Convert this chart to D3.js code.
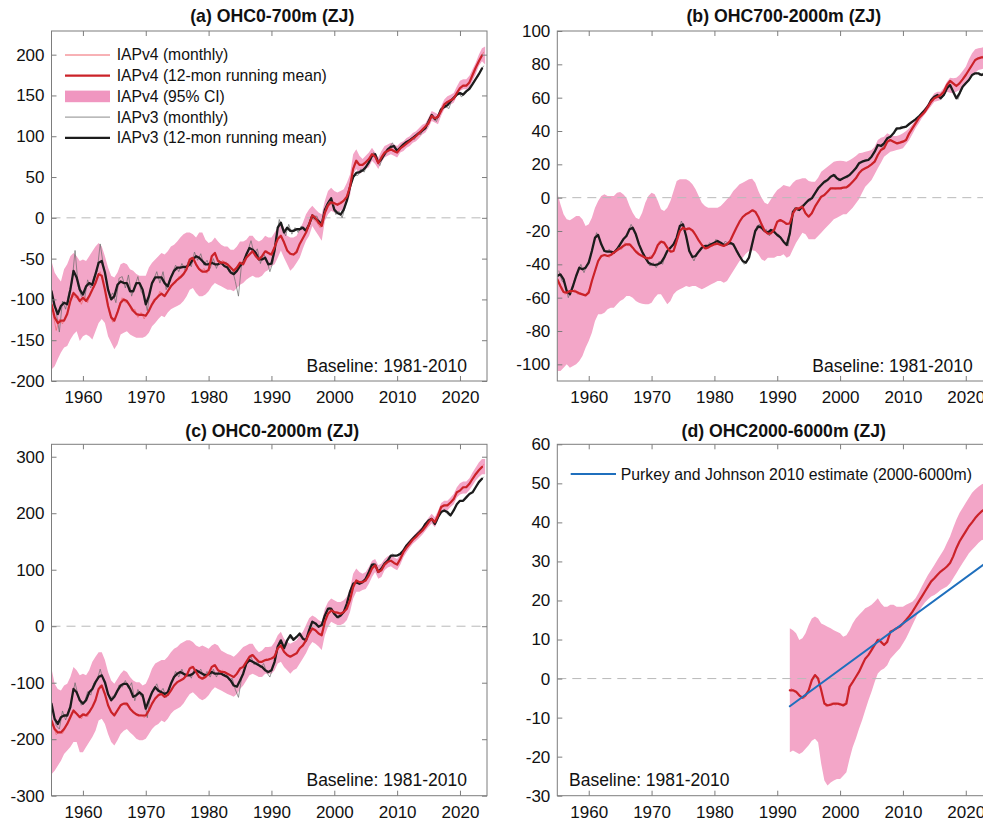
<!DOCTYPE html>
<html>
<head>
<meta charset="utf-8">
<script src="https://cdn.jsdelivr.net/npm/d3@7"></script>
<style>
  html, body { margin: 0; padding: 0; background: #ffffff; }
  svg { display: block; }
</style>
</head>
<body>
<svg id="fig" width="983" height="822"></svg>
<script>
// ---------------------------------------------------------------------------
// Ocean heat content anomalies (ZJ), baseline 1981-2010
// Half-year sampling for running means and 95% CI; thin "monthly" traces are
// sampled between those points.
// ---------------------------------------------------------------------------
const halfYears  = d3.range(1955, 2024.01, 0.5);    // 1955.0 ... 2024.0
const monthYears = d3.range(1955.25, 2024, 0.5);    // 1955.25 ... 2023.75
const deepYears  = d3.range(1992, 2024.01, 0.5);    // 1992.0 ... 2024.0
const deepMonthYears = d3.range(1992.25, 2024, 0.5);

const xTickYears = [1960, 1970, 1980, 1990, 2000, 2010, 2020];

const panelTitles = ["(a) OHC0-700m (ZJ)", "(b) OHC700-2000m (ZJ)", "(c) OHC0-2000m (ZJ)", "(d) OHC2000-6000m (ZJ)"];
const baselineLabel = "Baseline: 1981-2010";
const legendLabels = ["IAPv4 (monthly)", "IAPv4 (12-mon running mean)", "IAPv4 (95% CI)", "IAPv3 (monthly)", "IAPv3 (12-mon running mean)"];
const pjLabel = "Purkey and Johnson 2010 estimate (2000-6000m)";

const ticksA = [-200, -150, -100, -50, 0, 50, 100, 150, 200];
const ticksB = [-100, -80, -60, -40, -20, 0, 20, 40, 60, 80, 100];
const ticksC = [-300, -200, -100, 0, 100, 200, 300];
const ticksD = [-30, -20, -10, 0, 10, 20, 30, 40, 50, 60];

// ---- (a) 0-700 m ----------------------------------------------------------
const a_v4Mean = [
-106,-122,-129,-126,-126,-118,-102,-92,-96,-102,
-98,-102,-96,-88,-80,-69,-71,-88,-108,-122,
-126,-116,-104,-100,-102,-108,-114,-118,-119,-119,
-120,-114,-106,-100,-96,-93,-96,-90,-84,-80,
-76,-73,-69,-63,-51,-49,-57,-63,-66,-66,
-64,-47,-43,-53,-55,-55,-57,-61,-65,-61,
-55,-57,-49,-45,-41,-47,-51,-47,-41,-43,
-45,-36,-26,-22,-30,-40,-44,-45,-42,-32,
-25,-18,-8,3,0,-6,-10,6,15,19,
18,16,18,21,26,38,60,70,65,65,
68,72,78,75,67,74,80,82,84,82,
80,85,88,91,94,97,100,104,108,112,
116,125,122,124,131,139,142,144,146,153,
159,162,162,166,175,184,192,199,null];

const a_v3Mean = [
-90,-108,-118,-108,-104,-106,-88,-65,-73,-88,
-94,-84,-80,-82,-69,-55,-53,-67,-88,-100,
-96,-82,-78,-80,-80,-90,-90,-80,-80,-88,
-106,-96,-80,-73,-73,-73,-80,-84,-73,-65,
-61,-61,-60,-60,-57,-51,-47,-49,-53,-57,
-57,-55,-57,-57,-55,-59,-61,-67,-69,-65,
-59,-55,-45,-37,-39,-43,-51,-51,-49,-57,
-56,-40,-12,-6,-18,-12,-16,-16,-14,-14,
-12,-16,-8,3,-1,-4,-8,10,18,24,
10,6,4,10,21,38,50,55,56,58,
62,68,76,78,68,72,78,84,87,88,
82,86,90,93,95,98,101,104,107,110,
118,126,121,124,133,136,138,143,147,151,
153,151,155,158,164,170,176,183,null];

const a_ciHigh = [
-53,-67,-73,-78,-63,-57,-47,-43,-47,-53,
-51,-53,-47,-41,-35,-31,-35,-47,-61,-71,
-73,-67,-57,-55,-57,-63,-65,-69,-71,-71,
-71,-61,-55,-51,-47,-43,-45,-41,-35,-33,
-29,-24,-20,-18,-18,-20,-24,-18,-18,-27,
-31,-29,-24,-29,-33,-35,-35,-39,-39,-35,
-29,-29,-27,-22,-22,-27,-29,-27,-22,-24,
-24,-18,-12,-4,-12,-22,-24,-24,-22,-14,
-6,4.5,10.6,14.7,10.6,6.5,4.5,21,33,37,
33,31,33,35,43,53,78,84,76,72,
76,80,86,80,74,82,88,90,92,90,
88,92,94,98,100,104,106,110,114,116,
123,131,129,127,137,145,149,151,153,161,
168,170,170,174,182,190,200,208,210];

const a_ciLow = [
-186,-182,-173,-165,-159,-157,-149,-143,-139,-151,
-145,-143,-145,-149,-139,-129,-124,-129,-145,-153,
-161,-155,-143,-141,-139,-143,-145,-147,-147,-147,
-145,-141,-133,-129,-124,-120,-122,-116,-112,-110,
-108,-106,-102,-96,-88,-86,-92,-96,-96,-94,
-90,-84,-80,-82,-84,-86,-88,-88,-90,-86,
-82,-80,-76,-73,-71,-73,-73,-71,-66,-64,
-59,-57,-49,-40,-49,-57,-65,-61,-55,-49,
-38,-28,-22,-10,-16,-22,-28,-4,4.5,8.6,
6.5,6.5,8.6,10.6,19,27,53,60,53,57.5,
60,62,70,66,60,68,74,76,78,76,
74,80,82,86,88,92,94,98,102,104.5,
110.6,118.8,116.7,114.7,125,133,137,139,141,149,
155.5,157.6,157.6,159.6,167.8,176,186,192,188];

const a_v4Monthly = [
-118,-138,-124,-130,-120,-112,-94,-98,-96,-106,
-96,-104,-90,-86,-72,-66,-80,-96,-118,-128,
-120,-108,-98,-104,-104,-114,-112,-122,-116,-124,
-116,-110,-100,-100,-90,-96,-92,-88,-80,-80,
-72,-72,-64,-58,-48,-54,-62,-66,-62,-68,
-54,-44,-48,-56,-52,-58,-58,-64,-62,-58,
-54,-52,-46,-42,-44,-50,-48,-44,-40,-46,
-40,-30,-22,-26,-36,-42,-46,-42,-36,-28,
-22,-12,-2,-2,-6,-12,2,14,20,17,
16,19,20,22,32,50,68,66,64,68,
70,76,78,70,70,78,80,84,82,80,
83,87,90,92,96,98,102,106,110,115,
121,124,121,128,135,140,143,145,150,157,
161,161,164,170,180,188,196,203];

const a_v3Monthly = [
-100,-116,-140,-102,-112,-92,-80,-40,-84,-96,
-100,-76,-86,-72,-66,-32,-58,-76,-98,-92,
-104,-74,-72,-86,-70,-96,-84,-72,-90,-96,
-114,-86,-76,-66,-80,-66,-88,-76,-68,-58,
-66,-56,-64,-54,-60,-42,-52,-44,-58,-52,
-62,-50,-62,-52,-58,-54,-66,-62,-78,-96,
-56,-50,-40,-28,-44,-38,-56,-44,-52,-66,
-54,-24,-2,-14,-22,-8,-20,-12,-18,-10,
-16,-10,-4,2,2,-8,0,16,22,16,
4,8,0,14,28,46,52,52,60,56,
66,70,80,70,64,76,82,86,92,84,
84,88,92,94,98,96,104,102,110,112,
124,122,118,128,134,136,134,146,148,154,
148,154,158,160,168,172,180,186];

// ---- (b) 700-2000 m -------------------------------------------------------
const b_v4Mean = [
-49,-53,-56.6,-57,-56,-56,-56.4,-57.4,-58,-58.6,
-57,-50,-44,-38,-35,-34.4,-35,-34.4,-33,-31.6,
-30.4,-29,-28,-28,-30,-32.4,-34,-35,-36,-36.4,
-36,-33,-28.4,-26.4,-27,-30,-32.4,-32,-26,-20,
-18,-19,-18.4,-19.6,-22.4,-25.6,-28.4,-30.4,-30,-28.8,
-28,-27.6,-28.4,-29,-28,-26,-22,-18,-14.4,-11.6,
-10,-9,-7.6,-8.4,-11.6,-16,-20,-21.6,
-21.4,-19.4,-14.4,-13.4,-14.4,-15.8,-15.4,-9.4,-6.4,-6.4,
-5.4,-9.4,-11.4,-9.4,-5.4,-2.4,0.6,1.6,3.6,5.6,
5.6,5.6,5.6,6,6.2,7.6,9.6,11.6,14.6,16.6,
17.6,18.6,20,21.6,25.6,28.6,29.6,33.6,34.6,33.6,
32.6,33,33.6,34.6,38.6,41.6,44.6,47.6,49.6,51.6,
54.6,57.6,59.6,60.6,61.6,63.6,67.6,70,68.6,67,
68.6,71,73.6,76.6,79.6,82.6,83.6,84.2,84.2,84.5,null];

const b_v3Mean = [
-47,-46,-49,-56,-58,-53,-47,-42,-43,-42,
-39,-32,-24,-22.4,-28,-32,-32.4,-32.4,-33,-31,
-28,-25,-23,-19,-18,-22,-28,-32.4,-36,-39,
-40,-40.4,-40,-39,-36,-32,-30,-28,-24,-17,
-16,-23,-32,-35.6,-35,-32.4,-30,-29,-29,-28,
-27,-26,-27,-28.4,-28,-27,-28,-31.6,-35,-38,
-39,-36,-28,-20,-17.2,-18,-20,-21,
-19.4,-20.4,-22.4,-23.8,-26.4,-28.4,-21.4,-8.4,-6.4,-7.4,
-5.4,-3.4,-1.4,-0.4,2.6,5.6,7.6,9.6,10.6,12.6,
13.6,11.6,10.6,11.6,12.6,13.6,15.6,17.6,20.6,21.6,
22.2,22.6,24.6,27.6,31.6,31,32.6,35.6,36.6,38.6,
41.6,41.6,42.2,42.6,44.2,45.6,47,48.6,50.6,52.6,
55,58.6,60.6,61.6,59.6,61.6,65.6,67.6,63.6,59.6,
62.6,66.6,68.6,70.6,73.6,74.6,74.6,73.6,74.2,75,null];

const b_ciHigh = [
3,-4,-10,-13,-13.6,-12.4,-11,-11,-13,-17,
-16,-12,-6,-2,1,2,1,1,1,3,
3.4,2,0,-5,-9,-12,-13,-9,-3,1,
3,2,-2,-7,-8,-6,-2,4,10,11,
11,11,10,8,5,1,-3,-5,-6,-6,
-6,-6,-5,-3,-1,1,4,6,8,9,
10,11,11.4,9,4,0,-3,-4,
-1,2,4.6,6,7.6,7,6.6,9,10.6,11,
11.6,11.6,10,9.6,9.6,12,15.6,17,18.6,20,
21.6,22,22.2,22,21.6,22.5,23.6,25,26.6,27,
27.6,28,28.6,30.6,34.6,36,36.6,38.6,37.6,37,
37,37.6,38.6,40,41.6,44,46.6,49,51.6,54,
56.6,60,62.6,63.6,63.6,66,69.6,72,71.6,72,
73.6,76,78.6,83,86.6,89,89.6,90,90.6,91,91];

const b_ciLow = [
-104,-104,-102,-100,-102,-101,-100,-98,-95,-90,
-86,-81,-74,-70,-70,-69,-67,-66,-66,-64,
-62,-61,-59,-59,-60,-62,-63,-63.6,-64,-64,
-63,-60,-58,-58,-61,-64,-62,-58,-56,-55,
-54,-53,-53.6,-53,-53,-54,-55,-54,-53,-52,
-51,-50,-50,-51,-50,-47,-44,-41,-38,-36,
-33.6,-32,-31.6,-32,-34,-37,-38,-36,
-36,-36,-35,-35,-34,-36,-35,-31,-27,-24,
-21,-22,-25,-25,-25,-23,-21,-19,-17,-15,
-13,-12,-11,-10,-10,-8,-6,-3.5,-1,3,
6.6,8.5,10.6,14,17.6,21,24.6,26,27.6,28,
28.6,29,29.6,32,34.6,38,41.6,44.5,47.6,50,
52.6,55,57.6,58,58.6,61,63.6,63,62.6,63.5,
64.6,66,67.6,70.5,73.6,75,76.6,77,77.6,78,78];

const b_v4Monthly = [
-52,-56,-58,-56,-57,-55,-58,-57,-59,-57,
-54,-47,-41,-37,-35,-34,-36,-33,-33,-30,
-31,-27,-29,-28,-32,-32,-35,-35,-37,-35,
-35,-30,-26,-27,-28,-31,-33,-30,-23,-19,
-19,-18,-20,-20,-24,-27,-29,-31,-29,-29,
-27,-28,-29,-28,-27,-24,-20,-16,-13,-11,
-9,-8,-7,-10,-14,-18,-21,-22,-20,-17,
-13,-14,-15,-16,-13,-7,-7,-5,-7,-11,
-10,-7,-4,-1,1,3,4,6,5,6,
5,7,6,9,10,13,16,17,18,19,
21,24,27,30,31,35,34,33,32,34,
34,36,40,43,46,49,50,53,56,59,
60,61,62,66,69,70,67,68,70,72,
75,78,81,83,84,85,84,85];

const b_v3Monthly = [
-44,-50,-52,-60,-55,-49,-45,-40,-45,-40,
-36,-28,-21,-25,-30,-33,-31,-34,-31,-30,
-26,-24,-21,-16,-20,-25,-31,-34,-38,-41,
-39,-42,-38,-40,-34,-31,-29,-27,-20,-14,
-19,-28,-34,-38,-33,-31,-29,-30,-27,-29,
-25,-27,-29,-26,-28,-28,-30,-34,-37,-40,
-38,-33,-24,-17,-16,-20,-19,-23,-19,-22,
-22,-25,-28,-29,-15,-6,-8,-5,-4,-2,
-2,1,4,6,9,9,12,13,14,10,
11,12,12,15,16,19,21,22,23,23,
26,29,32,30,34,36,38,40,41,43,
42,43,45,46,48,49,52,53,57,60,
61,60,60,63,67,66,61,59,64,68,
70,72,74,75,73,75,74,76];

// ---- (c) 0-2000 m ---------------------------------------------------------
const c_v4Mean = [
-167,-182,-188,-188,-182,-173,-161,-149,-155,-161,
-156,-158,-152,-143,-131,-111,-105,-120,-140,-152,
-158,-149,-140,-137,-137,-146,-152,-156,-158,-158,
-158,-149,-137,-128,-122,-120,-125,-122,-114,-105,
-99,-96,-93,-87,-75,-72,-81,-90,-93,-90,
-84,-72,-69,-78,-81,-81,-84,-87,-90,-84,
-75,-72,-63,-54,-51,-57,-63,-63,-60,-59,
-57,-54,-39,-34,-45,-51,-54,-51,-48,-39,
-34,-25,-13,-4,-7,-13,-16,8,22,28,
25,24,22,25,31,46,69,81,78,78,
81,90,102,108,96,99,109,114,116,112,
109,119,131,139,146,153,158,164,169,176,
184,190,184,196,211,214,214,219,225,237,
240,246,246,252,261,269,276,282,null];

const c_v3Mean = [
-137,-164,-173,-161,-158,-158,-143,-111,-117,-131,
-137,-131,-117,-111,-99,-90,-87,-99,-120,-131,
-125,-114,-105,-102,-102,-111,-125,-122,-117,-122,
-146,-131,-117,-108,-114,-117,-120,-117,-102,-90,
-84,-81,-84,-87,-87,-84,-78,-81,-84,-87,
-85,-81,-84,-84,-84,-87,-90,-96,-105,-107,
-96,-84,-66,-60,-63,-66,-69,-72,-78,-81,
-78,-63,-36,-25,-39,-25,-16,-24,-19,-13,
-22,-25,-7,8,5,-1,2,19,31,31,
22,16,19,25,40,61,75,78,75,78,
84,96,109,109,96,102,111,116,125,125,
125,128,134,143,149,155,161,166,172,181,
187,190,181,193,202,205,202,196,205,216,
222,222,228,234,237,246,255,261,null];

const c_ciHigh = [
-75,-102,-111,-114,-105,-102,-90,-72,-78,-87,
-84,-87,-78,-63,-54,-46,-46,-60,-81,-96,
-102,-93,-84,-78,-81,-90,-96,-99,-99,-105,
-102,-90,-75,-66,-63,-60,-60,-54,-46,-40,
-37,-31,-28,-25,-25,-28,-34,-37,-34,-37,
-40,-34,-31,-34,-43,-46,-49,-51,-54,-49,
-43,-37,-34,-31,-31,-40,-46,-43,-37,-37,
-36,-28,-16,-10,-22,-28,-31,-28,-25,-16,
-10,2,14,19,16,11,8,31,43,49,
46,43,43,46,52,66,93,102,96,93,
96,105,116,119,108,111,119,124,126,122,
119,128,139,146,153,159,165,171,176,184,
192,199,193,204,218,222,222,228,234,246,
253,256,256,262,272,281,290,296,296];

const c_ciLow = [
-262,-256,-247,-238,-226,-220,-214,-205,-205,-223,
-223,-214,-205,-196,-185,-167,-164,-173,-191,-205,
-211,-202,-191,-185,-182,-188,-193,-199,-202,-202,
-199,-191,-182,-176,-173,-167,-170,-164,-155,-149,
-146,-143,-137,-128,-120,-117,-122,-128,-131,-128,
-122,-114,-108,-111,-114,-117,-120,-122,-125,-120,
-111,-105,-96,-87,-84,-87,-90,-90,-84,-84,
-84,-78,-66,-63,-72,-78,-84,-78,-75,-66,
-57,-48,-36,-28,-31,-36,-42,-16,-1,8,
5,2,2,5,11,25,49,61,61,64,
66,75,87,96,84,87,99,104,106,102,
99,109,122,131,139,146,151,156,162,169,
176,182,175,187,202,205,205,211,216,228,
233,235,235,241,249,258,264,269,269];

const c_v4Monthly = [
-176,-192,-186,-190,-180,-168,-152,-154,-156,-164,
-154,-160,-146,-138,-120,-104,-112,-130,-148,-156,
-152,-144,-136,-140,-140,-150,-152,-160,-156,-162,
-154,-142,-132,-126,-118,-124,-122,-118,-110,-102,
-98,-94,-90,-80,-70,-76,-86,-92,-90,-88,
-78,-68,-72,-80,-78,-84,-84,-90,-88,-80,
-74,-68,-58,-50,-54,-60,-64,-60,-58,-60,
-54,-46,-36,-40,-48,-54,-52,-50,-44,-36,
-30,-18,-8,-6,-10,-16,-4,16,25,26,
24,22,24,28,38,58,78,80,77,80,
85,96,106,102,97,104,112,115,114,110,
114,125,135,143,150,156,161,166,173,180,
188,186,190,204,212,214,216,222,231,240,
243,246,249,256,265,272,279,286];

const c_v3Monthly = [
-150,-176,-182,-150,-166,-150,-128,-100,-124,-140,
-134,-116,-122,-100,-96,-76,-96,-108,-128,-124,
-122,-104,-108,-96,-110,-100,-132,-112,-124,-128,
-162,-120,-112,-102,-118,-110,-126,-108,-96,-80,
-90,-76,-90,-82,-92,-74,-84,-76,-90,-80,
-90,-76,-90,-78,-88,-82,-96,-92,-112,-126,
-92,-76,-62,-54,-68,-62,-74,-66,-82,-90,
-72,-50,-28,-30,-36,-20,-22,-20,-16,-18,
-24,-18,4,8,2,0,8,26,34,26,
18,14,20,30,50,70,76,76,80,80,
90,102,112,104,96,106,114,120,128,124,
128,130,138,146,150,158,162,168,176,184,
190,188,184,198,204,202,196,200,210,220,
222,224,232,236,240,250,258,264];

// ---- (d) 2000-6000 m ------------------------------------------------------
const d_v4Mean = [
-3,-3,-3.4,-4.3,-4.9,-4.3,-3,-0.4,0.9,0,
-3,-6.4,-6.9,-6.7,-6.4,-6.4,-6.6,-6.9,-6.4,-2.1,
-0.9,0.4,1.7,3.4,5.1,6,7.3,8.6,9.9,9.4,
8.6,9.4,12,12.4,12.9,13.3,14.1,15,16,17.1,
18.4,19.7,21,22.3,23.6,24.9,25.7,26.6,27.4,28,
28.7,29.6,31.3,33.4,35.1,36.4,37.7,39,40,41.1,
42,42.8,43.4,43.8,null];

const d_ciHigh = [
12.9,12.4,11.6,9.9,10.3,11.6,13.7,15.4,15.9,15.4,
14.1,13.7,13.3,12.9,12.4,12,11.6,10.7,11.1,12.4,
14.1,15.4,16.3,17.1,18,18.4,18.9,19.7,20.6,19.3,
18.4,18.4,18.9,18.9,18.4,18.4,18.4,18.9,19.3,19.7,
20.6,22,23.6,25.1,26.6,27.8,29.1,30.4,31.7,33,
34.7,36.4,38.6,40.7,42.4,43.7,45,46.3,47.6,48.4,
49.1,49.7,50.1,50.5,50.8];

const d_ciLow = [
-18.9,-18.4,-18.9,-19.3,-18.9,-18,-17.1,-15.9,-15.4,-16.3,
-21.9,-26.1,-27.4,-26.6,-26.1,-25.7,-25.7,-24.9,-24,-20.6,
-17.6,-15.4,-12.9,-10.7,-8.1,-5.6,-3.4,-0.9,1.3,2.1,
2.6,3.4,5.1,6,6.9,7.7,9,10.3,12,13.7,
15.4,17.1,18.4,19.5,20.3,21,21.4,22,22.7,23.1,
23.6,24.4,25.7,27,28.3,29.6,30.8,32.1,33,33.8,
34.7,35.4,35.7,36,36.2];

const d_v4Monthly = [
-2.5,-3.5,-3.5,-4.8,-5.2,-4,-2,0.5,0.5,-1.5,
-5,-7.2,-6.5,-6.2,-6.8,-6.2,-6.5,-6.4,-4.5,-1.5,
-0.2,1.2,2.6,4.2,5.6,6.8,8,9.4,10.4,9,
9,10.8,12.2,12.6,13.2,13.6,14.6,15.6,16.6,17.8,
19,20.4,21.6,23,24.3,25.3,26,27.1,27.6,28.4,
29.1,30.4,32.4,34.2,35.8,37,38.3,39.6,40.6,41.6,
42.3,43,43.3,43.6];

// Purkey & Johnson (2010) linear deep-ocean warming estimate
const pjYears  = [1992, 2023];
const pjValues = [-7.1, 29.4];

// ---------------------------------------------------------------------------
const FONT = '"Liberation Sans", Arial, Helvetica, sans-serif';
const COLORS = {
  ci: "#f3a6c8", ciLegend: "#f096c0",
  v4: "#cb2229", v4m: "#f0656c",
  v3: "#1c1c1c", v3m: "#6a6a6a",
  pj: "#1f6fbd",
  axis: "#7d7d7d", zero: "#b9b9b9", text: "#111111"
};
const xDomain = [1955, 2024.3];
const plotW = 435.5;

const svg = d3.select("#fig");

const panels = [
  { key: "a", title: panelTitles[0], left: 51.5, top: 31, height: 350, titleY: 22, titleDx: 3,
    yDomain: [-200, 229], yTicks: ticksA, years: halfYears, mYears: monthYears,
    v4: a_v4Mean, v4m: a_v4Monthly, v3: a_v3Mean, v3m: a_v3Monthly, lo: a_ciLow, hi: a_ciHigh,
    baseline: "right", legend: "main" },
  { key: "b", title: panelTitles[1], left: 557.3, top: 31, height: 350, titleY: 22, titleDx: 8.7,
    yDomain: [-110, 100], yTicks: ticksB, years: halfYears, mYears: monthYears,
    v4: b_v4Mean, v4m: b_v4Monthly, v3: b_v3Mean, v3m: b_v3Monthly, lo: b_ciLow, hi: b_ciHigh,
    baseline: "right" },
  { key: "c", title: panelTitles[2], left: 51.5, top: 444.3, height: 351.4, titleY: 437, titleDx: 3,
    yDomain: [-300, 322], yTicks: ticksC, years: halfYears, mYears: monthYears,
    v4: c_v4Mean, v4m: c_v4Monthly, v3: c_v3Mean, v3m: c_v3Monthly, lo: c_ciLow, hi: c_ciHigh,
    baseline: "right" },
  { key: "d", title: panelTitles[3], left: 557.3, top: 444.3, height: 351.4, titleY: 437, titleDx: 8.7,
    yDomain: [-30, 60], yTicks: ticksD, years: deepYears, mYears: deepMonthYears,
    v4: d_v4Mean, v4m: d_v4Monthly, lo: d_ciLow, hi: d_ciHigh,
    pj: true, baseline: "left", legend: "pj" }
];

const asPoints = (ts, vs) => ts.map((t, i) => ({ t, v: vs[i] }));

function styleAxis(sel, showText) {
  sel.select(".domain").remove();
  sel.selectAll(".tick line").attr("stroke", COLORS.axis).attr("stroke-width", 1);
  sel.selectAll(".tick text")
    .attr("font-family", FONT).attr("font-size", 17).attr("fill", COLORS.text)
    .style("display", showText ? null : "none");
}

function drawPanel(p) {
  const right = p.left + plotW, bottom = p.top + p.height;
  const x = d3.scaleLinear().domain(xDomain).range([p.left, right]);
  const y = d3.scaleLinear().domain(p.yDomain).range([bottom, p.top]);

  const clipId = "clip-" + p.key;
  svg.append("clipPath").attr("id", clipId)
    .append("rect").attr("x", p.left).attr("y", p.top).attr("width", plotW).attr("height", p.height);

  const g = svg.append("g").attr("class", "panel-" + p.key);
  const plot = g.append("g").attr("clip-path", `url(#${clipId})`);

  // 95% confidence band
  const band = p.years.map((t, i) => ({ t, lo: p.lo[i], hi: p.hi[i] }));
  plot.append("path").datum(band)
    .attr("fill", COLORS.ci)
    .attr("d", d3.area().x(d => x(d.t)).y0(d => y(d.lo)).y1(d => y(d.hi)));

  // zero reference
  plot.append("line")
    .attr("x1", x(xDomain[0])).attr("x2", x(xDomain[1]))
    .attr("y1", y(0)).attr("y2", y(0))
    .attr("stroke", COLORS.zero).attr("stroke-width", 1).attr("stroke-dasharray", "9,6");

  const line = d3.line().defined(d => d.v != null).x(d => x(d.t)).y(d => y(d.v));
  const addLine = (pts, color, width) => plot.append("path").datum(pts)
    .attr("fill", "none").attr("stroke", color).attr("stroke-width", width)
    .attr("stroke-linejoin", "round").attr("stroke-linecap", "round").attr("d", line);

  if (p.v3m) addLine(asPoints(p.mYears, p.v3m), COLORS.v3m, 0.7);
  if (p.v3)  addLine(asPoints(p.years, p.v3), COLORS.v3, 2.3);
  if (p.v4m) addLine(asPoints(p.mYears, p.v4m), COLORS.v4m, 0.7);
  if (p.v4)  addLine(asPoints(p.years, p.v4), COLORS.v4, 2.2);
  if (p.pj)  addLine(asPoints(pjYears, pjValues), COLORS.pj, 2);

  // axes: inward ticks on all four sides
  const fmt = d => String(d);
  const left = g.append("g").attr("transform", `translate(${p.left},0)`)
    .call(d3.axisLeft(y).tickValues(p.yTicks).tickSizeInner(-5).tickSizeOuter(0).tickPadding(7).tickFormat(fmt));
  styleAxis(left, true);
  const rightAx = g.append("g").attr("transform", `translate(${right},0)`)
    .call(d3.axisRight(y).tickValues(p.yTicks).tickSizeInner(-5).tickSizeOuter(0).tickFormat(""));
  styleAxis(rightAx, false);
  const bottomAx = g.append("g").attr("transform", `translate(0,${bottom})`)
    .call(d3.axisBottom(x).tickValues(xTickYears).tickSizeInner(-5).tickSizeOuter(0).tickPadding(10).tickFormat(fmt));
  styleAxis(bottomAx, true);
  const topAx = g.append("g").attr("transform", `translate(0,${p.top})`)
    .call(d3.axisTop(x).tickValues(xTickYears).tickSizeInner(-5).tickSizeOuter(0).tickFormat(""));
  styleAxis(topAx, false);

  g.append("rect")
    .attr("x", p.left).attr("y", p.top).attr("width", plotW).attr("height", p.height)
    .attr("fill", "none").attr("stroke", COLORS.axis).attr("stroke-width", 1);

  // title
  g.append("text")
    .attr("x", (p.left + right) / 2 + p.titleDx).attr("y", p.titleY)
    .attr("text-anchor", "middle")
    .attr("font-family", FONT).attr("font-size", 17.7).attr("font-weight", "bold")
    .attr("fill", COLORS.text).text(p.title);

  // baseline note
  const bl = g.append("text")
    .attr("y", bottom - 9.3)
    .attr("font-family", FONT).attr("font-size", 17.5).attr("fill", COLORS.text)
    .text(baselineLabel);
  if (p.baseline === "right") bl.attr("x", right - 20).attr("text-anchor", "end");
  else bl.attr("x", p.left + 11.7).attr("text-anchor", "start");

  // legends
  if (p.legend === "main") {
    const lg = g.append("g");
    const x0 = p.left + 13.5, x1 = p.left + 58.5, tx = p.left + 65.2;
    legendLabels.forEach((label, i) => {
      const yy = p.top + 24 + i * 20.7;
      if (i === 2) {
        lg.append("rect").attr("x", x0).attr("y", yy - 5.8).attr("width", x1 - x0).attr("height", 11.6)
          .attr("fill", COLORS.ciLegend);
      } else {
        const style = [
          [COLORS.v4m, 1], [COLORS.v4, 2.2], null, ["#8c8c8c", 1], [COLORS.v3, 2.3]
        ][i];
        lg.append("line").attr("x1", x0).attr("x2", x1).attr("y1", yy).attr("y2", yy)
          .attr("stroke", style[0]).attr("stroke-width", style[1]);
      }
      lg.append("text").attr("x", tx).attr("y", yy).attr("dy", "0.35em")
        .attr("font-family", FONT).attr("font-size", 15.7).attr("fill", COLORS.text)
        .text(label);
    });
  } else if (p.legend === "pj") {
    const yy = p.top + 29.7;
    g.append("line").attr("x1", p.left + 13.4).attr("x2", p.left + 58.7).attr("y1", yy).attr("y2", yy)
      .attr("stroke", COLORS.pj).attr("stroke-width", 2);
    g.append("text").attr("x", p.left + 63.4).attr("y", yy).attr("dy", "0.35em")
      .attr("font-family", FONT).attr("font-size", 15.8).attr("fill", COLORS.text)
      .text(pjLabel);
  }
}

panels.forEach(drawPanel);
</script>
</body>
</html>
